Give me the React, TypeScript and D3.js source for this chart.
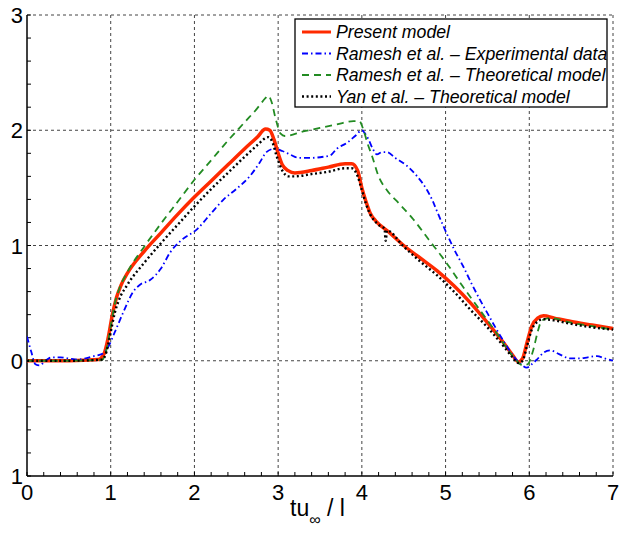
import React from "react";
import * as d3 from "d3";

const W = 619;
const H = 535;
const margin = { left: 27, right: 6, top: 15, bottom: 59 };

const xTicks = [0, 1, 2, 3, 4, 5, 6, 7];
const xTickLabels = ["0", "1", "2", "3", "4", "5", "6", "7"];
const yTicks = [-1, 0, 1, 2, 3];
const yTickLabels = ["1", "0", "1", "2", "3"];

const presentX = [0, 0.5, 0.85, 0.92, 0.97, 1.02, 1.07, 1.12, 1.2, 1.4, 1.6, 1.8, 2.0, 2.2, 2.4, 2.6, 2.75, 2.85, 2.9, 2.95, 3.0, 3.05, 3.12, 3.2, 3.4, 3.6, 3.8, 3.88, 3.95, 4.0, 4.05, 4.1, 4.17, 4.3, 4.5, 4.7, 4.9, 5.1, 5.3, 5.5, 5.7, 5.8, 5.87, 5.92, 5.97, 6.03, 6.1, 6.17, 6.3, 6.5, 6.75, 7.0];
const presentY = [0, 0, 0.01, 0.06, 0.2, 0.4, 0.55, 0.65, 0.76, 0.95, 1.11, 1.27, 1.42, 1.56, 1.7, 1.84, 1.94, 2.01, 2.0, 1.92, 1.8, 1.7, 1.65, 1.63, 1.65, 1.68, 1.71, 1.71, 1.65, 1.5, 1.38, 1.28, 1.21, 1.13, 1.0, 0.89, 0.78, 0.65, 0.5, 0.33, 0.15, 0.05, -0.01, 0.02, 0.15, 0.3, 0.37, 0.39, 0.37, 0.34, 0.31, 0.28];

const rameshExpX = [0, 0.05, 0.1, 0.15, 0.22, 0.3, 0.4, 0.5, 0.6, 0.7, 0.8, 0.9, 0.97, 1.05, 1.15, 1.27, 1.35, 1.47, 1.6, 1.71, 1.85, 2.03, 2.2, 2.35, 2.5, 2.66, 2.78, 2.86, 2.96, 3.05, 3.14, 3.25, 3.38, 3.54, 3.62, 3.7, 3.82, 3.92, 4.0, 4.04, 4.08, 4.13, 4.18, 4.24, 4.3, 4.4, 4.54, 4.66, 4.78, 4.85, 4.89, 5.01, 5.1, 5.21, 5.31, 5.41, 5.51, 5.61, 5.71, 5.81, 5.9, 5.97, 6.03, 6.09, 6.17, 6.25, 6.35, 6.49, 6.6, 6.7, 6.81, 6.9, 7.0];
const rameshExpY = [0.21, 0.08, -0.03, -0.04, 0.0, 0.03, 0.03, 0.02, 0.01, 0.02, 0.04, 0.06, 0.12, 0.25, 0.42, 0.6, 0.66, 0.7, 0.8, 0.94, 1.05, 1.14, 1.28, 1.4, 1.49, 1.6, 1.72, 1.81, 1.84, 1.82, 1.79, 1.76, 1.76, 1.77, 1.78, 1.84, 1.89, 1.95, 2.0, 1.97, 1.92, 1.84, 1.79, 1.81, 1.81, 1.76, 1.69, 1.6, 1.48, 1.38, 1.31, 1.11, 0.97, 0.82, 0.67, 0.53, 0.4, 0.27, 0.15, 0.04, -0.03, -0.06, -0.03, 0.01, 0.07, 0.09, 0.06, 0.02, 0.02, 0.03, 0.04, 0.02, 0.0];

const rameshTheoX = [0, 0.5, 0.9, 0.95, 1.0, 1.05, 1.1, 1.2, 1.4, 1.6, 1.8, 2.0, 2.2, 2.4, 2.6, 2.75, 2.85, 2.88, 2.92, 2.97, 3.03, 3.08, 3.3, 3.5, 3.7, 3.9, 3.97, 4.02, 4.07, 4.12, 4.2, 4.3, 4.45, 4.6, 4.8, 5.0, 5.2, 5.4, 5.6, 5.75, 5.85, 5.92, 5.98, 6.05, 6.1, 6.15, 6.25, 6.5, 6.75, 7.0];
const rameshTheoY = [0, 0, 0.01, 0.1, 0.3, 0.5, 0.62, 0.77, 0.99, 1.19, 1.38, 1.57, 1.74, 1.91, 2.07, 2.19, 2.28, 2.3, 2.25, 2.1, 1.97, 1.95, 1.99, 2.02, 2.05, 2.08, 2.08, 2.0, 1.88, 1.78, 1.6, 1.48, 1.36, 1.24, 1.05, 0.86, 0.65, 0.45, 0.25, 0.09, 0.0, -0.04, -0.03, 0.1, 0.25, 0.35, 0.37, 0.33, 0.3, 0.27];

const yanX = [0, 0.5, 0.9, 0.95, 1.0, 1.05, 1.1, 1.2, 1.4, 1.6, 1.8, 2.0, 2.2, 2.4, 2.6, 2.75, 2.88, 2.93, 2.98, 3.05, 3.12, 3.2, 3.4, 3.6, 3.8, 3.88, 3.95, 4.0, 4.05, 4.1, 4.17, 4.24, 4.27, 4.285, 4.3, 4.5, 4.7, 4.9, 5.1, 5.3, 5.5, 5.7, 5.8, 5.87, 5.92, 5.97, 6.03, 6.1, 6.17, 6.3, 6.5, 6.75, 7.0];
const yanY = [0, 0, 0.01, 0.08, 0.25, 0.42, 0.53, 0.66, 0.85, 1.02, 1.18, 1.34, 1.49, 1.63, 1.77, 1.87, 1.94, 1.9, 1.78, 1.65, 1.6, 1.6, 1.62, 1.64, 1.67, 1.67, 1.6, 1.48, 1.36, 1.27, 1.2, 1.16, 1.15, 1.04, 1.13, 0.99, 0.86, 0.74, 0.6, 0.44, 0.29, 0.12, 0.03, -0.02, 0.0, 0.12, 0.27, 0.34, 0.36, 0.35, 0.32, 0.29, 0.27];

const seriesNames = [
  "Present model",
  "Ramesh et al. \u2013 Experimental data",
  "Ramesh et al. \u2013 Theoretical model",
  "Yan et al. \u2013 Theoretical model",
];

const styles = [
  { color: "#ff2a00", width: 3.5, dash: "" },
  { color: "#0000ff", width: 1.8, dash: "6,3,1.5,3" },
  { color: "#228b22", width: 1.8, dash: "7,5" },
  { color: "#000000", width: 2.4, dash: "2,2.6" },
];

export default function App() {
  const x = d3.scaleLinear().domain([0, 7]).range([margin.left, W - margin.right]);
  const y = d3.scaleLinear().domain([-1, 3]).range([H - margin.bottom, margin.top]);
  const line = d3
    .line<[number, number]>()
    .x((d) => x(d[0]))
    .y((d) => y(d[1]))
    .curve(d3.curveMonotoneX);

  const data: [number, number][][] = [
    presentX.map((v, i) => [v, presentY[i]] as [number, number]),
    rameshExpX.map((v, i) => [v, rameshExpY[i]] as [number, number]),
    rameshTheoX.map((v, i) => [v, rameshTheoY[i]] as [number, number]),
    yanX.map((v, i) => [v, yanY[i]] as [number, number]),
  ];

  const minorX = d3.range(0, 7.001, 0.2);
  const minorY = d3.range(-1, 3.001, 0.2);
  const font = "'Liberation Sans', Arial, Helvetica, sans-serif";
  const x0 = x(0), x1 = x(7), yb = y(-1), yt = y(3);

  const lgX = 295, lgY = 19, lgW = 312, lgH = 88;
  const rowY = [32, 53.5, 75, 96.5];

  return (
    <svg width={W} height={H} style={{ position: "absolute", left: 0, top: 0, background: "#fff" }} fontFamily={font}>
      <defs>
        <clipPath id="plot">
          <rect x={x0} y={yt} width={x1 - x0} height={yb - yt} />
        </clipPath>
      </defs>
      <rect x={0} y={0} width={W} height={H} fill="#fff" />
      {xTicks.filter((t) => t > 0).map((t) => (
        <line key={"gx" + t} x1={x(t)} x2={x(t)} y1={yt} y2={yb} stroke="#444" strokeWidth={1} strokeDasharray="3,3" />
      ))}
      {yTicks.filter((t) => t > -1).map((t) => (
        <line key={"gy" + t} x1={x0} x2={x1} y1={y(t)} y2={y(t)} stroke="#444" strokeWidth={1} strokeDasharray="3,3" />
      ))}
      {minorX.map((t, i) => (
        <line key={"mx" + i} x1={x(t)} x2={x(t)} y1={yb} y2={yb - 4} stroke="#000" strokeWidth={1} />
      ))}
      {minorY.map((t, i) => (
        <line key={"my" + i} x1={x0} x2={x0 + 4} y1={y(t)} y2={y(t)} stroke="#000" strokeWidth={1} />
      ))}
      <line x1={x0} x2={x0} y1={yt} y2={yb} stroke="#000" strokeWidth={1.5} />
      <line x1={x0} x2={x1} y1={yb} y2={yb} stroke="#000" strokeWidth={1.5} />
      <g clipPath="url(#plot)">
        {data.map((d, i) => (
          <path
            key={"s" + i}
            d={line(d) || ""}
            fill="none"
            stroke={styles[i].color}
            strokeWidth={styles[i].width}
            strokeDasharray={styles[i].dash || undefined}
            strokeLinejoin="round"
          />
        ))}
      </g>
      {xTicks.map((t, i) => (
        <text key={"xl" + t} x={x(t)} y={500} textAnchor="middle" fontSize={22} fill="#000">
          {xTickLabels[i]}
        </text>
      ))}
      {yTicks.map((t, i) => (
        <text key={"yl" + t} x={23} y={y(t) + 8} textAnchor="end" fontSize={22} fill="#000">
          {yTickLabels[i]}
        </text>
      ))}
      <text x={290} y={516} fontSize={23} fill="#000">
        tu
        <tspan fontSize={16} dy={9}>{"\u221E"}</tspan>
        <tspan dy={-9}>{" / l"}</tspan>
      </text>
      <rect x={lgX} y={lgY} width={lgW} height={lgH} fill="#fff" stroke="#000" strokeWidth={1.3} />
      {seriesNames.map((n, i) => (
        <g key={"lg" + i}>
          <line
            x1={302}
            x2={331}
            y1={rowY[i]}
            y2={rowY[i]}
            stroke={styles[i].color}
            strokeWidth={i === 0 ? 3 : styles[i].width}
            strokeDasharray={styles[i].dash || undefined}
          />
          <text x={336} y={rowY[i] + 6} fontSize={17.7} fontStyle="italic" fill="#000">
            {n}
          </text>
        </g>
      ))}
    </svg>
  );
}
